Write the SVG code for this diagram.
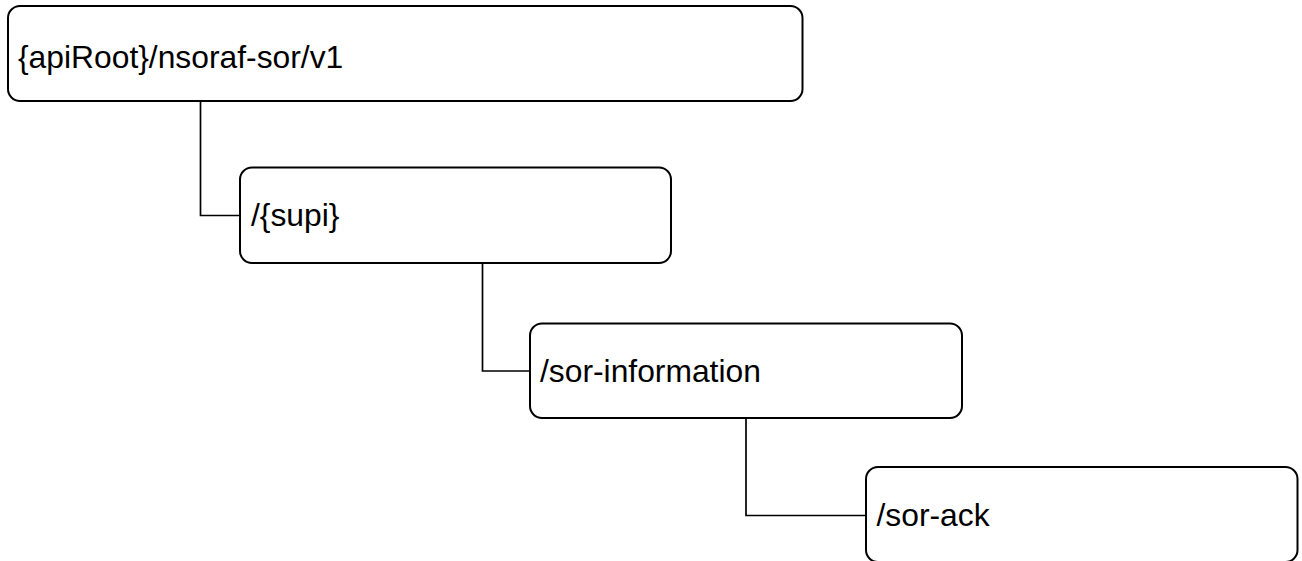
<svg xmlns="http://www.w3.org/2000/svg" width="1302" height="561" viewBox="0 0 1302 561">
<style>
.box{fill:#fff;stroke:#000;stroke-width:2}
.lbl{font-family:"Liberation Sans",Arial,sans-serif;font-size:31.8px;fill:#000}
.conn{fill:none;stroke:#000;stroke-width:1.7}
</style>
<rect width="1302" height="561" fill="#fff"/>
<g id="connectors">
<polyline class="conn" points="200.5,101 200.5,215.5 240,215.5"/>
<polyline class="conn" points="482.5,263 482.5,371 530,371"/>
<polyline class="conn" points="746,418 746,515.5 866,515.5"/>
</g>
<g id="node1">
<rect class="box" x="8" y="6" width="794.5" height="95" rx="12" ry="12"/>
<text class="lbl" x="18" y="68">{apiRoot}/nsoraf-sor/v1</text>
</g>
<g id="node2">
<rect class="box" x="240" y="167.5" width="431" height="95.5" rx="12" ry="12"/>
<text class="lbl" x="251" y="226">/{supi}</text>
</g>
<g id="node3">
<rect class="box" x="530" y="323.5" width="432" height="94.5" rx="12" ry="12"/>
<text class="lbl" x="540" y="382">/sor-information</text>
</g>
<g id="node4">
<rect class="box" x="866" y="467" width="431.5" height="95" rx="12" ry="12"/>
<text class="lbl" x="876.5" y="526">/sor-ack</text>
</g>
</svg>
